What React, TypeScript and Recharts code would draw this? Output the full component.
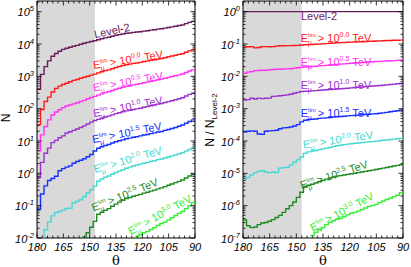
import React from 'react';
import { LineChart, Line, XAxis, YAxis, ReferenceArea } from 'recharts';

// bin edges in zenith angle (deg), 2 deg bins, 180 -> 90
const binEdges = [180, 178, 176, 174, 172, 170, 168, 166, 164, 162, 160, 158, 156, 154, 152, 150, 148, 146, 144, 142, 140, 138, 136, 134, 132, 130, 128, 126, 124, 122, 120, 118, 116, 114, 112, 110, 108, 106, 104, 102, 100, 98, 96, 94, 92, 90];

// Level-2 event counts per bin
const level2 = [400, 1150, 2000, 3000, 4200, 5100, 6000, 6800, 7400, 7900, 8500, 9100, 9800, 10500, 11200, 12000, 12600, 13500, 14500, 15500, 16200, 17400, 18600, 19500, 20400, 21400, 21900, 22900, 23400, 24000, 25100, 25700, 26900, 27500, 28800, 29500, 30900, 32400, 33900, 35500, 37200, 38900, 42700, 46800, 50100];

// fraction of Level-2 above each muon energy threshold
const ratioE00 = [0.080, 0.082, 0.083, 0.076, 0.078, 0.083, 0.083, 0.082, 0.083, 0.086, 0.088, 0.088, 0.089, 0.089, 0.090, 0.091, 0.093, 0.095, 0.096, 0.097, 0.098, 0.099, 0.101, 0.103, 0.105, 0.107, 0.109, 0.110, 0.111, 0.113, 0.114, 0.115, 0.117, 0.118, 0.119, 0.121, 0.122, 0.124, 0.125, 0.126, 0.128, 0.129, 0.130, 0.131, 0.132];
const ratioE05 = [0.0125, 0.0135, 0.0140, 0.0150, 0.0152, 0.0155, 0.0155, 0.0158, 0.0163, 0.0165, 0.0166, 0.0168, 0.0170, 0.0172, 0.0180, 0.0185, 0.0190, 0.0195, 0.0198, 0.0202, 0.0206, 0.0210, 0.0215, 0.0219, 0.0223, 0.0228, 0.0233, 0.0238, 0.0243, 0.0248, 0.0253, 0.0258, 0.0263, 0.0268, 0.0273, 0.0278, 0.0283, 0.0287, 0.0291, 0.0295, 0.0299, 0.0303, 0.0307, 0.0311, 0.0316];
const ratioE10 = [0.00186, 0.00190, 0.00210, 0.00200, 0.00212, 0.00205, 0.00210, 0.00212, 0.00240, 0.00245, 0.00250, 0.00258, 0.00268, 0.00280, 0.00300, 0.00320, 0.00340, 0.00345, 0.00350, 0.00355, 0.00362, 0.00370, 0.00378, 0.00385, 0.00393, 0.00400, 0.00407, 0.00413, 0.00420, 0.00430, 0.00440, 0.00450, 0.00460, 0.00470, 0.00480, 0.00490, 0.00500, 0.00510, 0.00520, 0.00530, 0.00545, 0.00560, 0.00575, 0.00590, 0.00600];
const ratioE15 = [0.000190, 0.000200, 0.000205, 0.000200, 0.000165, 0.000160, 0.000200, 0.000205, 0.000210, 0.000215, 0.000240, 0.000255, 0.000260, 0.000270, 0.000290, 0.000320, 0.000390, 0.00044, 0.00046, 0.00047, 0.00048, 0.00050, 0.00051, 0.00052, 0.00053, 0.00055, 0.00056, 0.00057, 0.00058, 0.00060, 0.00061, 0.00062, 0.00063, 0.00065, 0.00066, 0.00067, 0.00069, 0.00070, 0.00072, 0.00074, 0.00077, 0.00080, 0.00083, 0.00086, 0.00090];
const ratioE20 = [6.6e-6, 7.5e-6, 9.0e-6, 1.05e-5, 1.15e-5, 1.2e-5, 1.1e-5, 1.05e-5, 1.1e-5, 1.05e-5, 1.45e-5, 1.5e-5, 1.55e-5, 1.8e-5, 2.2e-5, 2.6e-5, 3.2e-5, 4.2e-5, 4.6e-5, 4.9e-5, 5.1e-5, 5.4e-5, 5.7e-5, 6.0e-5, 6.3e-5, 6.7e-5, 7.1e-5, 7.4e-5, 7.7e-5, 8.0e-5, 8.2e-5, 8.5e-5, 8.7e-5, 8.9e-5, 9.2e-5, 9.4e-5, 9.6e-5, 9.9e-5, 1.02e-4, 1.05e-4, 1.08e-4, 1.11e-4, 1.14e-4, 1.17e-4, 1.21e-4];
const ratioE25 = [3.6e-7, 2.4e-7, 2.1e-7, 2.2e-7, 2.6e-7, 2.9e-7, 3.0e-7, 3.3e-7, 3.7e-7, 4.3e-7, 5.0e-7, 6.2e-7, 8.0e-7, 1.0e-6, 1.3e-6, 1.8e-6, 2.6e-6, 4.0e-6, 4.3e-6, 4.6e-6, 5.0e-6, 5.5e-6, 6.0e-6, 6.6e-6, 7.2e-6, 7.7e-6, 8.2e-6, 8.5e-6, 8.9e-6, 9.3e-6, 9.7e-6, 1.01e-5, 1.05e-5, 1.1e-5, 1.15e-5, 1.2e-5, 1.26e-5, 1.32e-5, 1.38e-5, 1.45e-5, 1.52e-5, 1.6e-5, 1.68e-5, 1.76e-5, 1.85e-5];
const ratioE30 = [null, null, null, null, null, null, null, null, null, null, null, null, null, null, null, null, null, null, null, 1.2e-7, 1.5e-7, 1.8e-7, 2.1e-7, 2.6e-7, 3.0e-7, 3.4e-7, 3.8e-7, 4.0e-7, 4.6e-7, 5.2e-7, 5.8e-7, 6.2e-7, 6.8e-7, 7.6e-7, 8.5e-7, 9.5e-7, 1.0e-6, 1.1e-6, 1.25e-6, 1.4e-6, 1.55e-6, 1.7e-6, 1.9e-6, 2.1e-6, 2.5e-6];

const thresholds = ['0.0', '0.5', '1.0', '1.5', '2.0', '2.5', '3.0'];
const ratios = [ratioE00, ratioE05, ratioE10, ratioE15, ratioE20, ratioE25, ratioE30];
const colors = ['#ff1a1a', '#ff33f0', '#9b30cf', '#1530ff', '#45d9d0', '#1f8a1f', '#33ee33'];
const level2Color = '#6a1b5a';

const xMajor = [180, 165, 150, 135, 120, 105, 90];
const xMinor = [180, 177, 174, 171, 168, 165, 162, 159, 156, 153, 150, 147, 144, 141, 138, 135, 132, 129, 126, 123, 120, 117, 114, 111, 108, 105, 102, 99, 96, 93, 90];
const leftDecades = [-2, -1, 0, 1, 2, 3, 4, 5];
const rightDecades = [-7, -6, -5, -4, -3, -2, -1, 0];
const shadeEnd = 147;

const H = 267;
const TOP = 1;
const XAXIS_H = 29;

// step histogram rows: one row per bin edge, last edge repeats last bin
const rows = binEdges.map((theta, i) => {
  const j = Math.min(i, level2.length - 1);
  const row: any = { theta, lvl2: level2[j], rlvl2: level2[j] / level2[j] };
  ratios.forEach((r, k) => {
    const v = r[j];
    row['n' + k] = v == null ? null : v * level2[j];
    row['r' + k] = v;
  });
  return row;
});

const minorTicks = (decades: number[]) => {
  const out: number[] = [];
  decades.forEach((d, i) => {
    const base = Math.pow(10, d);
    out.push(base);
    if (i < decades.length - 1) for (let m = 2; m <= 9; m++) out.push(m * base);
  });
  out.push(2 * Math.pow(10, decades[decades.length - 1]));
  return out;
};

const tickFont = { fontFamily: 'Liberation Sans, Arial, sans-serif', fontStyle: 'italic' as const, fontSize: 11, fill: '#000' };

const makeXTick = () => (props: any) => {
  const { x, y, payload } = props;
  const v = payload.value;
  const major = xMajor.includes(v);
  const len = major ? 4.5 : 2.5;
  return (
    <g>
      <line x1={x} x2={x} y1={y} y2={y - len} stroke="#000" strokeWidth={0.8} />
      <line x1={x} x2={x} y1={TOP} y2={TOP + len} stroke="#000" strokeWidth={0.8} />
      {major && (
        <text x={x} y={y + 13} textAnchor="middle" {...tickFont}>{v}</text>
      )}
    </g>
  );
};

const makeYTick = (plotW: number) => (props: any) => {
  const { x, y, payload } = props;
  const v = payload.value;
  const e = Math.log10(v);
  const major = Math.abs(e - Math.round(e)) < 1e-6;
  const len = major ? 4.5 : 2.5;
  return (
    <g>
      <line x1={x} x2={x + len} y1={y} y2={y} stroke="#000" strokeWidth={0.8} />
      <line x1={x + plotW} x2={x + plotW - len} y1={y} y2={y} stroke="#000" strokeWidth={0.8} />
      {major && (
        <text x={x - 3} y={y + 4.5} textAnchor="end" {...tickFont}>
          10<tspan dy={-5} fontSize={7.5}>{Math.round(e)}</tspan>
        </text>
      )}
    </g>
  );
};

function Panel({ width, left, plotW, marginL, marginR, decades, prefix, base }: any) {
  const yMin = Math.pow(10, decades[0]);
  const yMax = Math.pow(10, decades[decades.length - 1] + 0.33);
  return (
    <div style={{ position: 'absolute', left, top: 0 }}>
      <LineChart width={width} height={H} data={rows} margin={{ top: TOP, right: marginR, bottom: 0, left: marginL }}>
        <XAxis
          dataKey="theta"
          type="number"
          domain={[90, 180]}
          reversed
          allowDataOverflow
          ticks={xMinor}
          interval={0}
          tickSize={0}
          tickMargin={0}
          axisLine={false}
          tick={makeXTick()}
          height={XAXIS_H}
        />
        <YAxis
          type="number"
          scale="log"
          domain={[yMin, yMax]}
          allowDataOverflow
          ticks={minorTicks(decades)}
          interval={0}
          tickSize={0}
          tickMargin={0}
          axisLine={false}
          tick={makeYTick(plotW)}
          width={30}
        />
        <ReferenceArea x1={180} x2={shadeEnd} y1={yMin} y2={yMax} fill="#d9d9d9" fillOpacity={1} stroke="none" />
        <Line dataKey={base} type="stepAfter" stroke={level2Color} strokeWidth={1.4} dot={false} isAnimationActive={false} />
        {ratios.map((_, k) => (
          <Line key={k} dataKey={prefix + k} type="stepAfter" stroke={colors[k]} strokeWidth={1.4} dot={false} isAnimationActive={false} />
        ))}
        <ReferenceArea x1={180} x2={90} y1={yMin} y2={yMax} fill="none" fillOpacity={0} stroke="#000" strokeWidth={1} />
      </LineChart>
    </div>
  );
}

const labelFont = 'Liberation Sans, Arial, sans-serif';

function ELabel({ x, y, angle, color, exp }: any) {
  return (
    <text x={x} y={y + 3.5} fill={color} fontSize={11} fontFamily={labelFont} textAnchor="middle" transform={`rotate(${angle} ${x} ${y})`}>
      E<tspan dy={-4.5} fontSize={6}>lim</tspan>
      <tspan dx={-8} dy={7.5} fontSize={7}>μ</tspan>
      <tspan dx={3} dy={-3}> &gt; 10</tspan>
      <tspan dy={-4.5} fontSize={7}>{exp}</tspan>
      <tspan dy={4.5}> TeV</tspan>
    </text>
  );
}

const leftLabelPos = [
  [128, 60, -9], [128, 82, -10], [128, 107, -11], [127, 133, -11], [128, 160, -16], [125, 195, -22], [160, 215, -29],
];
const rightLabelPos = [
  [336, 38, 0], [336, 62, 0], [336, 85, 0], [336, 113, 0], [338, 140, -8], [334, 175, -18], [342, 212, -28],
];

export default function App() {
  return (
    <div style={{ position: 'absolute', left: 0, top: 0, width: 411, height: H, background: '#fff', overflow: 'hidden' }}>
      <Panel width={205} left={0} plotW={158} marginL={7} marginR={10} decades={leftDecades} prefix="n" base="lvl2" />
      <Panel width={206} left={205} plotW={160} marginL={8} marginR={8} decades={rightDecades} prefix="r" base="rlvl2" />
      <svg width={411} height={H} style={{ position: 'absolute', left: 0, top: 0, pointerEvents: 'none' }}>
        <text x={112} y={34.5} fill={level2Color} fontSize={11} fontFamily={labelFont} textAnchor="middle" transform="rotate(-12 112 31)">Level-2</text>
        <text x={319} y={19.5} fill={level2Color} fontSize={11} fontFamily={labelFont} textAnchor="middle">Level-2</text>
        {thresholds.map((exp, k) => (
          <ELabel key={'l' + k} x={leftLabelPos[k][0]} y={leftLabelPos[k][1]} angle={leftLabelPos[k][2]} color={colors[k]} exp={exp} />
        ))}
        {thresholds.map((exp, k) => (
          <ELabel key={'r' + k} x={rightLabelPos[k][0]} y={rightLabelPos[k][1]} angle={rightLabelPos[k][2]} color={colors[k]} exp={exp} />
        ))}
        <text x={10} y={118} fontSize={12} fontFamily={labelFont} textAnchor="middle" transform="rotate(-90 10 118)">N</text>
        <text x={214} y={120} fontSize={12} fontFamily={labelFont} textAnchor="middle" transform="rotate(-90 214 120)">
          N / N<tspan dy={3} fontSize={8}>Level-2</tspan>
        </text>
        <text x={116} y={265} fontSize={13} fontFamily="DejaVu Serif, serif" textAnchor="middle">θ</text>
        <text x={323} y={265} fontSize={13} fontFamily="DejaVu Serif, serif" textAnchor="middle">θ</text>
      </svg>
    </div>
  );
}
